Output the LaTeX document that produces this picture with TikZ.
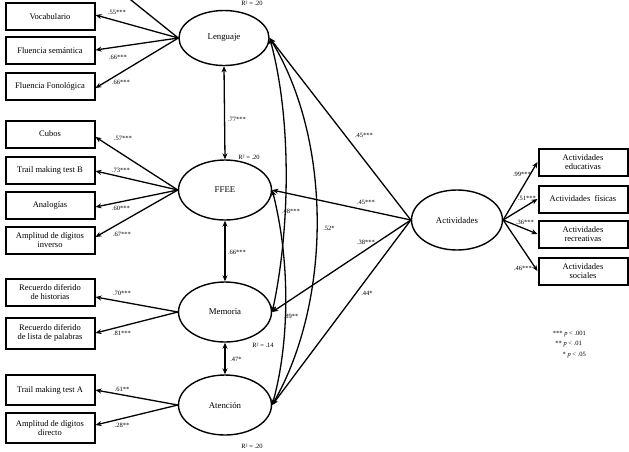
\documentclass[tikz,border=0pt]{standalone}
\usepackage{fontspec}
\setmainfont{Liberation Serif}
\usetikzlibrary{shapes.geometric,arrows.meta}
\begin{document}
\begin{tikzpicture}[x=1pt,y=-1pt,
  obs/.style={draw,line width=2pt,minimum width=89pt,minimum height=27pt,inner sep=1pt,align=center,font=\fontsize{8.5}{9.5}\selectfont},
  lat/.style={draw,ellipse,line width=1.4pt,minimum width=93pt,minimum height=60pt,inner sep=0pt,font=\fontsize{8.8}{10}\selectfont},
  arr/.style={line width=1.3pt,-{Stealth[length=6pt,width=5pt]}},
  darr/.style={line width=1.3pt,{Stealth[length=6pt,width=5pt]}-{Stealth[length=6pt,width=5pt]}},
  lab/.style={font=\fontsize{6.5}{7.5}\selectfont,inner sep=0pt}]
\useasboundingbox (0,0) rectangle (629,451);
\fill[white] (0,0) rectangle (629,451);
% latent variables
\node[lat,minimum width=90pt,minimum height=55pt] (len) at (224,38) {Lenguaje};
\node[lat] (ffe) at (225,190) {FFEE};
\node[lat] (mem) at (225,312) {Memoria};
\node[lat] (ate) at (225,405) {Atención};
\node[lat,minimum width=91pt] (act) at (457,220) {Actividades};
% left observed
\node[obs] (voc) at (50,16.5) {Vocabulario};
\node[obs] (fse) at (50,50.5) {Fluencia semántica};
\node[obs] (ffo) at (50,86) {Fluencia Fonológica};
\node[obs] (cub) at (50,134) {Cubos};
\node[obs] (tmb) at (50,170) {Trail making test B};
\node[obs] (ana) at (50,205) {Analogías};
\node[obs] (adi) at (50,240) {Amplitud de dígitos\\inverso};
\node[obs] (rdh) at (50,292) {Recuerdo diferido\\de historias};
\node[obs,minimum height=31pt] (rdl) at (50,333) {Recuerdo diferido\\de lista de palabras};
\node[obs,minimum height=30pt] (tma) at (50,390) {Trail making test A};
\node[obs,minimum height=30pt] (add) at (50,428) {Amplitud de dígitos\\directo};
% right observed
\node[obs] (aed) at (583,162) {Actividades\\educativas};
\node[obs] (afi) at (583,199) {Actividades\ \ físicas};
\node[obs] (are) at (583,234) {Actividades\\recreativas};
\node[obs] (aso) at (583,271) {Actividades\\sociales};
% loadings
\coordinate (topbox) at (126,-4);
\draw[line width=1.3pt] (len.west) -- (topbox);
\draw[arr] (len.west) -- (voc.east |- 0,15);
\draw[arr] (len.west) -- (fse.east |- 0,50);
\draw[arr] (len.west) -- (ffo.east |- 0,88);
\draw[arr] (ffe.west) -- (cub.east |- 0,137);
\draw[arr] (ffe.west) -- (tmb.east |- 0,171);
\draw[arr] (ffe.west) -- (ana.east |- 0,207);
\draw[arr] (ffe.west) -- (adi.east |- 0,237);
\draw[arr] (mem.west) -- (rdh.east |- 0,297);
\draw[arr] (mem.west) -- (rdl.east |- 0,333);
\draw[arr] (ate.west) -- (tma.east |- 0,390);
\draw[arr] (ate.west) -- (add.east |- 0,425);
\draw[arr] (act.east) -- (aed.west);
\draw[arr] (act.east) -- (afi.west);
\draw[arr] (act.east) -- (are.west);
\draw[arr] (act.east) -- (aso.west);
% structural
\draw[darr] (len.south) -- (ffe.north);
\draw[darr] (ffe.south) -- (mem.north);
\draw[darr] (mem.south) -- (ate.north);
\draw[arr] (act.west) -- (len.east);
\draw[arr] (act.west) -- (ffe.east);
\draw[arr] (act.west) -- (mem.east);
\draw[arr] (act.west) -- (ate.east);
\draw[darr] (len.east) .. controls (292,120) and (290,230) .. (mem.east);
\draw[darr] (ffe.east) .. controls (290,260) and (290,340) .. (ate.east);
\draw[darr] (len.east) .. controls (332,140) and (332,300) .. (ate.east);
% labels
\node[lab] at (117,12) {.55***};
\node[lab] at (118,57) {.66***};
\node[lab] at (121,82) {.66***};
\node[lab] at (123,138) {.57***};
\node[lab] at (121,170) {.73***};
\node[lab] at (121,208) {.60***};
\node[lab] at (122,234) {.67***};
\node[lab] at (122,293) {.70***};
\node[lab] at (122,333) {.81***};
\node[lab] at (122,389) {.61**};
\node[lab] at (122,425) {.28**};
\node[lab] at (237,119) {.77***};
\node[lab] at (249,157) {R² = .20};
\node[lab] at (237,252) {.66***};
\node[lab] at (263,345) {R² = .14};
\node[lab] at (236,359) {.47*};
\node[lab] at (252,446) {R² = .20};
\node[lab] at (252,3) {R² = .20};
\node[lab] at (291,211) {.48***};
\node[lab] at (329,228) {.52*};
\node[lab] at (291,316) {.89**};
\node[lab] at (364,135) {.45***};
\node[lab] at (366,202) {.45***};
\node[lab] at (366,242) {.38***};
\node[lab] at (367,293) {.44*};
\node[lab] at (522,174) {.99***};
\node[lab] at (527,198) {.51***};
\node[lab] at (525,222) {.36***};
\node[lab] at (523,268) {.46***};
\node[lab,anchor=east] at (586,334) {*** \textit{p} < .001};
\node[lab,anchor=east] at (582,344) {** \textit{p} < .01};
\node[lab,anchor=east] at (586,355) {* \textit{p} < .05};
\end{tikzpicture}
\end{document}
